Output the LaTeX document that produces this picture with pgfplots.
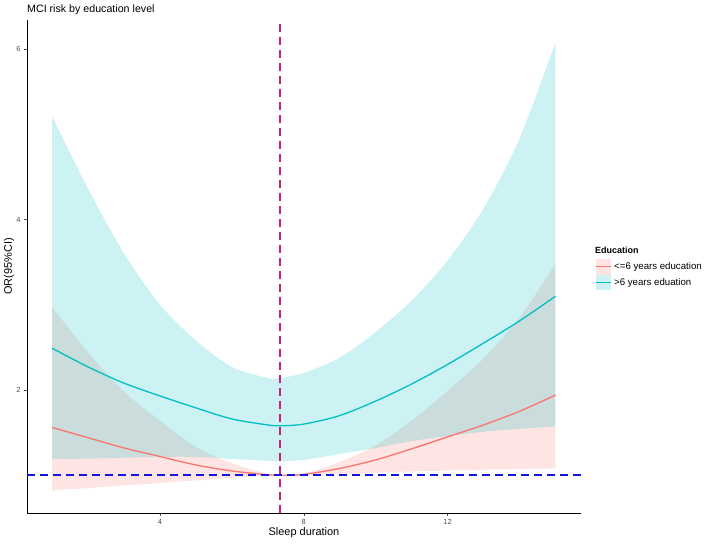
\documentclass[border=0pt]{standalone}
\usepackage{pgfplots}
\pgfplotsset{compat=1.18}
\usepackage{pgfplotstable}
\usepgfplotslibrary{fillbetween}
\usetikzlibrary{calc}
\usepackage{fontspec}
\setmainfont{Liberation Sans}
\definecolor{ggred}{HTML}{F8766D}
\definecolor{ggteal}{HTML}{00BFC4}
\definecolor{refmagenta}{HTML}{C8217A}
\definecolor{hblue}{RGB}{20,20,225}
\definecolor{tickgray}{RGB}{77,77,77}

\pgfplotstableread{
x or lo hi
1 1.56 0.82 2.97
2 1.44 0.85 2.44
3 1.32 0.88 1.98
4 1.22 0.91 1.64
5 1.12 0.94 1.33
6 1.05 0.97 1.14
7 1.005 0.995 1.015
7.33 1.0 1.0 1.0
8 1.01 1.0 1.02
9 1.08 1.01 1.155
10 1.18 1.03 1.35
11 1.31 1.045 1.64
12 1.45 1.055 1.99
13 1.59 1.065 2.37
14 1.75 1.075 2.85
15 1.94 1.08 3.48
}\redtab

\pgfplotstableread{
x or lo hi
1 2.49 1.19 5.21
2 2.27 1.195 4.36
3 2.08 1.205 3.60
4 1.93 1.215 3.00
5 1.79 1.215 2.58
6 1.66 1.19 2.27
7 1.59 1.17 2.14
7.33 1.58 1.165 2.14
8 1.60 1.18 2.20
9 1.70 1.25 2.38
10 1.87 1.32 2.68
11 2.07 1.40 3.05
12 2.30 1.46 3.52
13 2.55 1.51 4.13
14 2.81 1.545 4.95
15 3.10 1.57 6.08
}\tealtab

\begin{document}
\begin{tikzpicture}
\begin{axis}[
  name=main,
  scale only axis, width=554bp, height=493bp,
  xmin=0.3, xmax=15.71, ymin=0.557, ymax=6.34,
  axis lines*=left,
  xtick={4,8,12}, ytick={2,4,6},
  tick align=outside, major tick length=3bp,
  tick style={color=tickgray, line width=0.6bp},
  axis line style={line width=0.8bp, black},
  ticklabel style={font=\fontsize{7.5}{8}\selectfont, text=tickgray},
  /pgf/number format/assume math mode=true,
  xlabel={Sleep duration}, ylabel={OR(95\%CI)},
  label style={font=\fontsize{11}{13}\selectfont},
  xlabel style={at={(axis description cs:0.5,0)}, anchor=center, yshift=-19.5bp},
  ylabel style={at={(axis description cs:0,0.5)}, anchor=center, yshift=18bp},
  legend style={draw=none, fill=none, at={(axis description cs:1.0253,0.515)}, anchor=north west,
    inner sep=0pt, outer sep=0pt, row sep=0pt, nodes={inner sep=0pt},
    font=\fontsize{9.7}{11}\selectfont,
    /tikz/every odd column/.append style={column sep=3bp}},
  legend cell align=left,
  legend image code/.code={
    \fill[#1, draw=none, fill opacity=0.2] (0bp,-7.75bp) rectangle (15bp,7.75bp);
    \draw[#1] (0bp,0bp) -- (15bp,0bp);
  },
]
% lines first
\addplot[ggred, line width=1.3bp, smooth, forget plot] table[x=x, y=or] {\redtab};
\addplot[ggteal, line width=1.3bp, smooth, forget plot] table[x=x, y=or] {\tealtab};
% ribbons
\addplot[name path=rhi, draw=none, smooth, forget plot] table[x=x, y=hi] {\redtab};
\addplot[name path=rlo, draw=none, smooth, forget plot] table[x=x, y=lo] {\redtab};
\addplot[fill=ggred, fill opacity=0.2, draw=none, forget plot] fill between[of=rhi and rlo];
\addplot[name path=thi, draw=none, smooth, forget plot] table[x=x, y=hi] {\tealtab};
\addplot[name path=tlo, draw=none, smooth, forget plot] table[x=x, y=lo] {\tealtab};
\addplot[fill=ggteal, fill opacity=0.2, draw=none, forget plot] fill between[of=thi and tlo];
% reference lines
\addplot[draw=hblue, line width=1.6bp, dash pattern=on 8bp off 5bp, forget plot] coordinates {(0.3,1) (15.71,1)};
% legend
\addlegendimage{ggred, line width=1.2bp}
\addlegendentry{<=6 years education}
\addlegendimage{ggteal, line width=1.2bp}
\addlegendentry{>6 years eduation}
\end{axis}
\draw[refmagenta, line width=1.8bp, dash pattern=on 8bp off 5bp] ($(main.south west)+(252.6bp,0bp)$) -- ($(main.south west)+(252.6bp,493bp)$);
\node[anchor=base west, font=\bfseries\fontsize{9}{10}\selectfont, inner sep=0pt] at ($(main.south west)+(568bp,259bp)$) {Education};
\node[anchor=base west, font=\fontsize{10.7}{12}\selectfont, inner sep=0pt] at ($(main.south west)+(0bp,500bp)$) {MCI risk by education level};
\pgfresetboundingbox
\path[use as bounding box] (-27bp,-31bp) rectangle (681bp,513bp);
\end{tikzpicture}
\end{document}
